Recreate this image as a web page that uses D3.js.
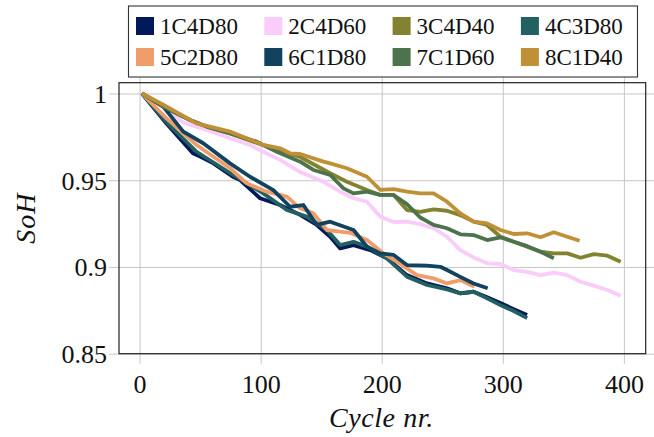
<!DOCTYPE html>
<html>
<head>
<meta charset="utf-8">
<script src="https://cdn.jsdelivr.net/npm/d3@7"></script>
<style>
  html, body { margin: 0; padding: 0; background: #fff; }
  svg { display: block; }
</style>
</head>
<body>
<div id="chart"></div>
<script>
// ---------------- DATA ----------------
const seriesNames = ["1C4D80", "2C4D60", "3C4D40", "4C3D80", "5C2D80", "6C1D80", "7C1D60", "8C1D40"];
const seriesColors = ["#011959", "#FACCFA", "#828231", "#226061", "#F19D6B", "#114360", "#4D734D", "#C09036"];
const xTicks = [0, 100, 200, 300, 400];
const yTicks = [0.85, 0.9, 0.95, 1];

const s1C4D80 = [[2,1.0],[22,0.9828],[44,0.9655],[50,0.9636],[61,0.9597],[77,0.952],[83,0.9501],[99.5,0.9396],[116,0.9357],[132.6,0.93],[146.4,0.9242],[157.4,0.9174],[165.7,0.9107],[176.7,0.9126],[190.5,0.9097],[204.3,0.905],[220.8,0.8953],[237.4,0.8905],[253.9,0.8877],[264.9,0.8848],[275.9,0.8857],[287,0.8826],[298,0.8792],[309,0.8757],[320,0.8723]];
const s2C4D60 = [[2,1.0],[19.3,0.9928],[36.1,0.9832],[55.4,0.979],[74.7,0.9742],[91.2,0.9703],[102.2,0.9664],[116,0.9617],[132.6,0.9547],[151.9,0.9491],[165.7,0.9434],[176.7,0.9396],[187.8,0.9376],[198.8,0.929],[209.8,0.9259],[220.8,0.9261],[231.8,0.9247],[242.8,0.9223],[253.9,0.9174],[264.9,0.9097],[275.9,0.9055],[287,0.9021],[298,0.9017],[309,0.8982],[320.1,0.8972],[331.1,0.8953],[342.1,0.8967],[353.2,0.8953],[364.2,0.8915],[375.2,0.8892],[386.3,0.8867],[397.3,0.8834]];
const s3C4D40 = [[2,1.0],[19.5,0.9924],[41.6,0.9847],[55.4,0.9809],[74.7,0.977],[96.8,0.9715],[113.3,0.9674],[132.6,0.9634],[157.4,0.954],[171.2,0.9491],[187.8,0.9443],[198.8,0.9415],[209.8,0.9415],[220.8,0.9328],[231.8,0.9318],[242.8,0.9332],[253.9,0.9324],[264.9,0.9299],[275.9,0.9261],[287,0.9242],[298,0.9174],[309,0.9145],[320.1,0.9117],[331.1,0.9088],[342.1,0.9078],[353.2,0.9078],[364.2,0.9053],[375.2,0.9074],[386.3,0.9065],[397.3,0.903]];
const s4C3D80 = [[2,1.0],[22,0.9835],[47.1,0.9664],[75,0.954],[102.2,0.9424],[121.6,0.9328],[138.1,0.929],[154.7,0.9213],[165.7,0.9126],[176.7,0.9145],[187.8,0.9117],[204.3,0.905],[220.8,0.8944],[237.4,0.8896],[253.9,0.887],[264.9,0.8848],[275.9,0.8857],[287,0.8819],[298,0.878],[309,0.8746],[320.1,0.8705]];
const s5C2D80 = [[2,1.0],[21.8,0.9859],[47.1,0.9703],[74.7,0.9569],[88.5,0.9482],[105,0.9434],[121.6,0.9405],[132.6,0.9338],[143.6,0.9309],[154.7,0.9213],[165.7,0.9203],[174,0.9197],[187.8,0.9155],[201.5,0.9078],[212.6,0.903],[229.1,0.8953],[242.8,0.8934],[253.9,0.8905],[264.9,0.8924],[276.5,0.8886]];
const s6C1D80 = [[2,1.0],[19.5,0.9924],[36.1,0.978],[52.6,0.9713],[74.7,0.9597],[91.2,0.952],[110.5,0.9443],[124.3,0.9347],[135.3,0.9357],[146.4,0.9242],[157.4,0.9261],[176.7,0.9213],[187.8,0.9117],[198.8,0.9078],[209.8,0.9069],[220.8,0.9011],[237.4,0.9008],[248.4,0.9001],[253.9,0.8982],[264.9,0.8943],[275.9,0.8905],[287.5,0.8877]];
const s7C1D60 = [[2,1.0],[19.5,0.9924],[41.6,0.9847],[55.4,0.9809],[74.7,0.977],[96.8,0.9722],[113.3,0.9664],[132.6,0.9607],[143.6,0.9559],[157.4,0.953],[168.4,0.9453],[176.7,0.9424],[187.8,0.9434],[198.8,0.9415],[209.8,0.9415],[220.8,0.9362],[231.8,0.9285],[242.8,0.9242],[253.9,0.9223],[264.9,0.9188],[275.9,0.9184],[287,0.9155],[298,0.9171],[309,0.9145],[320.1,0.912],[331.1,0.9088],[342.1,0.905]];
const s8C1D40 = [[2,1.0],[19.5,0.9935],[47.1,0.9828],[74.7,0.978],[102.2,0.9703],[116,0.9684],[124.3,0.9655],[132.6,0.9651],[151.9,0.9607],[157.4,0.9597],[171.2,0.9569],[187.8,0.952],[198.8,0.9444],[209.8,0.9448],[220.8,0.9434],[231.8,0.9424],[242.8,0.9424],[253.9,0.9376],[264.9,0.9309],[275.9,0.9261],[287,0.9251],[298,0.9213],[309,0.919],[320.1,0.9194],[331.1,0.9171],[342.1,0.92],[353.2,0.9174],[363.4,0.9151]];

const seriesData = [s1C4D80, s2C4D60, s3C4D40, s4C3D80, s5C2D80, s6C1D80, s7C1D60, s8C1D40];

// ---------------- LAYOUT ----------------
const W = 654, H = 437;
const L = 119, R = 645.7, T = 82.7, B = 353.7;
const FONT = "'Liberation Serif', 'DejaVu Serif', serif";

const svg = d3.select("#chart").append("svg")
  .attr("width", W).attr("height", H);

const x = d3.scaleLinear().domain([-17, 418]).range([L, R]);
const y = d3.scaleLinear().domain([0.85, 1.0062]).range([B, T]);

const gridColor = "#c6c6c6";
const tickExt = 10;

// x grid + ticks + labels
const gx = svg.append("g")
  .attr("transform", `translate(0,${B + tickExt})`)
  .call(d3.axisBottom(x).tickValues(xTicks).tickSize(-(B - T + 2 * tickExt)).tickFormat(d3.format("d")));
gx.select(".domain").remove();
gx.selectAll(".tick line").attr("stroke", gridColor).attr("stroke-width", 1);
gx.selectAll(".tick text")
  .attr("y", 29).attr("dy", 0)
  .attr("fill", "#111")
  .style("font-family", FONT).style("font-size", "26px");

// y grid + ticks + labels
const gy = svg.append("g")
  .attr("transform", `translate(${L - tickExt},0)`)
  .call(d3.axisLeft(y).tickValues(yTicks).tickSize(-(R - L + 2 * tickExt)).tickFormat(d => d === 1 ? "1" : String(d)));
gy.select(".domain").remove();
gy.selectAll(".tick line").attr("stroke", gridColor).attr("stroke-width", 1);
gy.selectAll(".tick text")
  .attr("x", -2).attr("dy", "0.34em")
  .attr("fill", "#111")
  .style("font-family", FONT).style("font-size", "26px");

// lines
const line = d3.line().x(d => x(d[0])).y(d => y(d[1]));
svg.append("g").selectAll("path")
  .data(seriesData)
  .join("path")
  .attr("d", d => line(d))
  .attr("fill", "none")
  .attr("stroke", (d, i) => seriesColors[i])
  .attr("stroke-width", 3.8)
  .attr("stroke-linejoin", "round")
  .attr("stroke-linecap", "butt");

// frame
svg.append("rect")
  .attr("x", L).attr("y", T).attr("width", R - L).attr("height", B - T)
  .attr("fill", "none").attr("stroke", "#222").attr("stroke-width", 1.2);

// axis labels
svg.append("text")
  .attr("x", (L + R) / 2 - 1).attr("y", 427)
  .attr("text-anchor", "middle")
  .attr("fill", "#111")
  .style("font-family", FONT).style("font-size", "28px").style("font-style", "italic")
  .style("letter-spacing", "0.6px")
  .text("Cycle nr.");

svg.append("text")
  .attr("transform", `translate(35,${(T + B) / 2}) rotate(-90)`)
  .attr("text-anchor", "middle")
  .attr("fill", "#111")
  .style("font-family", FONT).style("font-size", "28px").style("font-style", "italic")
  .style("letter-spacing", "1px")
  .text("SoH");

// legend
const lg = svg.append("g");
lg.append("rect")
  .attr("x", 128.5).attr("y", 6).attr("width", 509).attr("height", 71)
  .attr("fill", "#fff").attr("stroke", "#333").attr("stroke-width", 1.1);
const items = lg.selectAll("g.item")
  .data(seriesNames)
  .join("g")
  .attr("class", "item")
  .attr("transform", (d, i) => `translate(${136 + (i % 4) * 128.3},${(i < 4 ? 26 : 57)})`);
items.append("rect")
  .attr("x", 0).attr("y", -9).attr("width", 18).attr("height", 18)
  .attr("fill", (d, i) => seriesColors[i]);
items.append("text")
  .attr("x", 24).attr("y", 8)
  .attr("fill", "#111")
  .style("font-family", FONT).style("font-size", "23px")
  .text(d => d);
</script>
</body>
</html>
